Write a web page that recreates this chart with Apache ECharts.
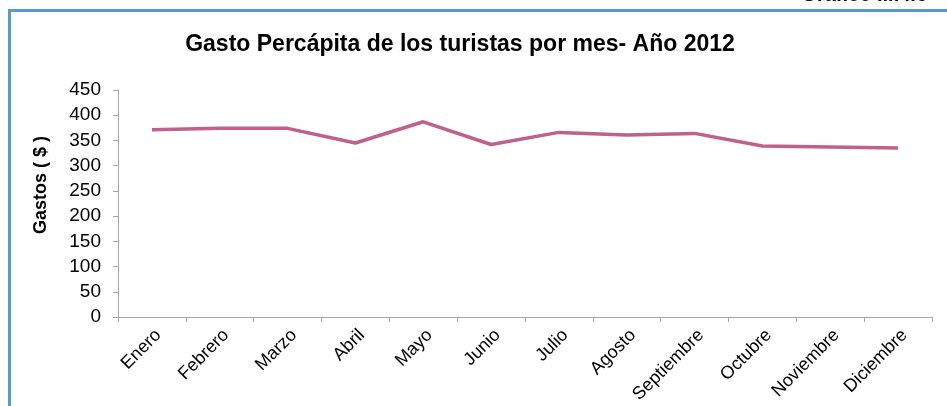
<!DOCTYPE html>
<html>
<head>
<meta charset="utf-8">
<script src="https://cdn.jsdelivr.net/npm/echarts@6/dist/echarts.min.js"></script>
<style>
  html, body { margin: 0; padding: 0; background: #fff; }
  #chart { width: 947px; height: 406px; }
</style>
</head>
<body>
<div id="chart"></div>
<script>
// gasto mensual por turista, 2012
const months = ["Enero", "Febrero", "Marzo", "Abril", "Mayo", "Junio", "Julio",
  "Agosto", "Septiembre", "Octubre", "Noviembre", "Diciembre"];
const gastos = [371, 374, 374, 345, 387, 342, 366, 361, 364, 339, 337, 335];

const chart = echarts.init(document.getElementById("chart"));
const font = "Liberation Sans, Arial, sans-serif";

chart.setOption({
  animation: false,
  title: {
    text: "Gasto Percápita de los turistas por mes- Año 2012",
    left: 455,
    textAlign: "center",
    top: 28,
    textStyle: { fontFamily: font, fontSize: 23, fontWeight: "bold", color: "#000" }
  },
  graphic: [
    {
      type: "polyline",
      shape: { points: [[9.5, 420], [9.5, 10.5], [947, 10.5]] },
      style: { stroke: "#5a9ac4", lineWidth: 3, fill: null }
    },
    {
      type: "text",
      right: 20,
      top: -15,
      style: { text: "Gráfico III.4.6", font: "bold 20px " + font, fill: "#000" }
    },
    {
      // titulo del eje y, algo por encima del centro como en el original
      type: "text",
      x: 41,
      y: 185,
      rotation: Math.PI / 2,
      style: {
        text: "Gastos ( $ )",
        font: "bold 18px " + font,
        fill: "#000",
        align: "center",
        verticalAlign: "middle"
      }
    }
  ],
  grid: { left: 118, right: 15, top: 90, bottom: 87 },
  xAxis: {
    type: "category",
    data: months,
    boundaryGap: true,
    axisLine: { lineStyle: { color: "#a6a6a6" } },
    axisTick: { show: true, length: 5, alignWithLabel: false, lineStyle: { color: "#a6a6a6" } },
    axisLabel: {
      rotate: 45, interval: 0, color: "#000", fontFamily: font, fontSize: 18,
      margin: 9, verticalAlign: "top"
    }
  },
  yAxis: {
    type: "value",
    min: 0,
    max: 450,
    interval: 50,
    splitLine: { show: false },
    axisLine: { show: true, lineStyle: { color: "#a6a6a6" } },
    axisTick: { show: true, length: 5, lineStyle: { color: "#a6a6a6" } },
    axisLabel: { color: "#000", fontFamily: font, fontSize: 19, margin: 17 }
  },
  series: [
    {
      type: "line",
      data: gastos,
      symbol: "none",
      lineStyle: { color: "#c0608c", width: 3.5 },
      itemStyle: { color: "#c0608c" }
    }
  ]
});
</script>
</body>
</html>
